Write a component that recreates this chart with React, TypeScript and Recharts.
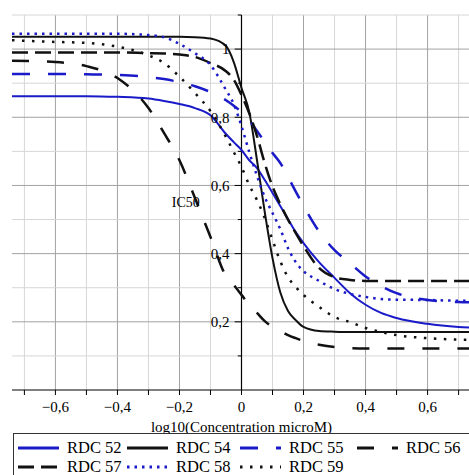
import { Legend, Line, LineChart, ReferenceDot, ReferenceLine, XAxis, YAxis } from "recharts";

const X_VALUES = [
  -0.74, -0.6, -0.5, -0.4, -0.3, -0.25, -0.2, -0.15, -0.1, -0.05, -0.025, 0, 0.025, 0.05, 0.075,
  0.1, 0.125, 0.15, 0.175, 0.2, 0.25, 0.3, 0.35, 0.4, 0.45, 0.5, 0.6, 0.7, 0.74,
];

const RDC_52 = [
  0.862, 0.862, 0.862, 0.86, 0.855, 0.848, 0.839, 0.827, 0.806, 0.751, 0.727, 0.704, 0.674, 0.651, 0.616,
  0.578, 0.54, 0.501, 0.463, 0.431, 0.375, 0.329, 0.284, 0.25, 0.226, 0.211, 0.194, 0.185, 0.183,
];
const RDC_54 = [
  1.036, 1.036, 1.036, 1.036, 1.036, 1.036, 1.036, 1.035, 1.031, 1.009, 0.962, 0.886, 0.815, 0.674, 0.522,
  0.387, 0.287, 0.232, 0.205, 0.185, 0.173, 0.171, 0.17, 0.17, 0.17, 0.17, 0.17, 0.17, 0.17,
];
const RDC_55 = [
  0.927, 0.927, 0.926, 0.924, 0.918, 0.912, 0.903, 0.891, 0.874, 0.85, 0.834, 0.815, 0.792, 0.76, 0.727,
  0.695, 0.666, 0.625, 0.582, 0.54, 0.465, 0.41, 0.372, 0.333, 0.305, 0.284, 0.264, 0.258, 0.257,
];
const RDC_56 = [
  0.966, 0.962, 0.95, 0.915, 0.827, 0.754, 0.674, 0.563, 0.449, 0.334, 0.308, 0.279, 0.249, 0.226, 0.202,
  0.185, 0.173, 0.161, 0.152, 0.144, 0.133, 0.126, 0.123, 0.122, 0.122, 0.122, 0.122, 0.122, 0.122,
];
const RDC_57 = [
  0.99, 0.99, 0.99, 0.99, 0.988, 0.987, 0.984, 0.977, 0.959, 0.935, 0.91, 0.865, 0.812, 0.745, 0.665,
  0.597, 0.545, 0.5, 0.46, 0.422, 0.358, 0.331, 0.323, 0.32, 0.32, 0.32, 0.32, 0.32, 0.32,
];
const RDC_58 = [
  1.045, 1.045, 1.045, 1.045, 1.041, 1.035, 1.015, 0.988, 0.953, 0.88, 0.839, 0.774, 0.698, 0.628, 0.566,
  0.519, 0.472, 0.416, 0.375, 0.349, 0.32, 0.296, 0.282, 0.273, 0.267, 0.265, 0.264, 0.262, 0.262,
];
const RDC_59 = [
  1.026, 1.021, 1.018, 1.007, 0.982, 0.959, 0.919, 0.871, 0.818, 0.742, 0.698, 0.654, 0.601, 0.557, 0.504,
  0.44, 0.378, 0.331, 0.302, 0.279, 0.244, 0.214, 0.199, 0.182, 0.17, 0.161, 0.152, 0.148, 0.147,
];

const X_TICKS = [-0.7, -0.6, -0.5, -0.4, -0.3, -0.2, -0.1, 0, 0.1, 0.2, 0.3, 0.4, 0.5, 0.6, 0.7];
const X_LABELS = ["", "\u22120,6", "", "\u22120,4", "", "\u22120,2", "", "0", "", "0,2", "", "0,4", "", "0,6", ""];
const X_MAJOR_GRID = [-0.6, -0.4, -0.2, 0.2, 0.4, 0.6];
const X_MINOR_GRID = [-0.7, -0.5, -0.3, -0.1, 0.1, 0.3, 0.5, 0.7];
const Y_MAJOR = [0.2, 0.4, 0.6, 0.8, 1];
const Y_LABELS = ["0,2", "0,4", "0,6", "0,8", "1"];
const Y_MINOR = [0.1, 0.3, 0.5, 0.7, 0.9, 1.1];
const X_TITLE = "log10(Concentration microM)";
const IC50 = { x: -0.225, y: 0.552, text: "IC50" };

const BLUE = "#1a1ac8";
const BLACK = "#111111";

const SERIES = [
  { key: "rdc52", name: "RDC 52", values: RDC_52, color: BLUE, width: 2, dash: undefined },
  { key: "rdc54", name: "RDC 54", values: RDC_54, color: BLACK, width: 2, dash: undefined },
  { key: "rdc55", name: "RDC 55", values: RDC_55, color: BLUE, width: 2.5, dash: "18 18" },
  { key: "rdc56", name: "RDC 56", values: RDC_56, color: BLACK, width: 2.5, dash: "17 18" },
  { key: "rdc57", name: "RDC 57", values: RDC_57, color: BLACK, width: 2.5, dash: "16 7" },
  { key: "rdc58", name: "RDC 58", values: RDC_58, color: BLUE, width: 2.5, dash: "2.5 5" },
  { key: "rdc59", name: "RDC 59", values: RDC_59, color: BLACK, width: 2.5, dash: "2.5 7.5" },
];

const data = X_VALUES.map((x, i) => {
  const row: Record<string, number> = { x };
  SERIES.forEach((s) => {
    row[s.key] = s.values[i];
  });
  return row;
});

const FONT = '"Liberation Serif", serif';

function LegendBox() {
  return (
    <div
      style={{
        width: 470,
        height: 60,
        boxSizing: "border-box",
        border: "1px solid #333",
        background: "#fff",
        paddingTop: 4,
        paddingLeft: 4,
        display: "grid",
        gridTemplateColumns: "109px 113px 117px 112px",
        gridAutoRows: "19px",
        fontFamily: FONT,
        fontSize: 16.5,
        lineHeight: "19px",
        color: "#000",
      }}
    >
      {SERIES.map((s) => (
        <div key={s.key} style={{ display: "flex", alignItems: "center", whiteSpace: "nowrap", fontFamily: FONT }}>
          <svg width={41} height={6}>
            <line x1={0} y1={3} x2={41} y2={3} stroke={s.color} strokeWidth={3} strokeDasharray={s.dash} />
          </svg>
          <span style={{ marginLeft: 8, fontFamily: FONT }}>{s.name}</span>
        </div>
      ))}
    </div>
  );
}

export default function App() {
  return (
    <div style={{ position: "absolute", left: 0, top: 0, width: 469, height: 475, overflow: "hidden", background: "#fff", fontFamily: FONT }}>
      <LineChart width={471} height={475} data={data} margin={{ top: 15, right: 0, left: 12, bottom: 43 }} style={{ fontFamily: FONT }}>
        {X_MINOR_GRID.map((v) => (
          <ReferenceLine key={`xm${v}`} x={v} stroke="#d6d6d6" strokeWidth={1} />
        ))}
        {X_MAJOR_GRID.map((v) => (
          <ReferenceLine key={`xM${v}`} x={v} stroke="#a2a2a2" strokeWidth={1} />
        ))}
        {Y_MINOR.map((v) => (
          <ReferenceLine key={`ym${v}`} y={v} stroke="#d6d6d6" strokeWidth={1} />
        ))}
        {Y_MAJOR.map((v) => (
          <ReferenceLine key={`yM${v}`} y={v} stroke="#a2a2a2" strokeWidth={1} />
        ))}
        <XAxis
          dataKey="x"
          type="number"
          domain={[-0.74, 0.74]}
          allowDataOverflow
          ticks={X_TICKS}
          interval={0}
          tickFormatter={(v: number) => X_LABELS[X_TICKS.indexOf(v)] ?? ""}
          tickSize={5}
          tickMargin={6}
          height={42}
          axisLine={{ stroke: "#000" }}
          tickLine={{ stroke: "#000" }}
          tick={{ fill: "#000", fontSize: 15, fontFamily: FONT }}
          label={{ value: X_TITLE, position: "insideBottom", offset: 0, fill: "#000", fontSize: 15, fontFamily: FONT }}
        />
        <YAxis type="number" domain={[0, 1.1]} allowDataOverflow hide />
        <ReferenceLine x={0} stroke="#000" strokeWidth={1.2} />
        {Y_MINOR.map((v) => (
          <ReferenceLine key={`ymt${v}`} segment={[{ x: -0.012, y: v }, { x: 0, y: v }]} stroke="#000" />
        ))}
        {Y_MAJOR.map((v) => (
          <ReferenceLine key={`yMt${v}`} segment={[{ x: -0.022, y: v }, { x: 0, y: v }]} stroke="#000" />
        ))}
        {Y_MAJOR.map((v, i) => (
          <ReferenceDot
            key={`yl${v}`}
            x={0}
            y={v}
            r={0}
            fill="none"
            stroke="none"
            label={{ value: Y_LABELS[i], position: "left", offset: 12, fill: "#000", fontSize: 15, fontFamily: FONT }}
          />
        ))}
        {SERIES.map((s) => (
          <Line
            key={s.key}
            type="monotone"
            dataKey={s.key}
            name={s.name}
            stroke={s.color}
            strokeWidth={s.width}
            strokeDasharray={s.dash}
            dot={false}
            activeDot={false}
            isAnimationActive={false}
          />
        ))}
        <ReferenceDot
          x={IC50.x}
          y={IC50.y}
          r={0}
          fill="none"
          stroke="none"
          label={{ value: IC50.text, position: "right", offset: 0, fill: "#000", fontSize: 14, fontFamily: FONT }}
        />
        <Legend
          layout="horizontal"
          verticalAlign="middle"
          align="center"
          wrapperStyle={{ top: 433, left: 13, width: 470, height: 60 }}
          content={() => <LegendBox />}
        />
      </LineChart>
    </div>
  );
}
